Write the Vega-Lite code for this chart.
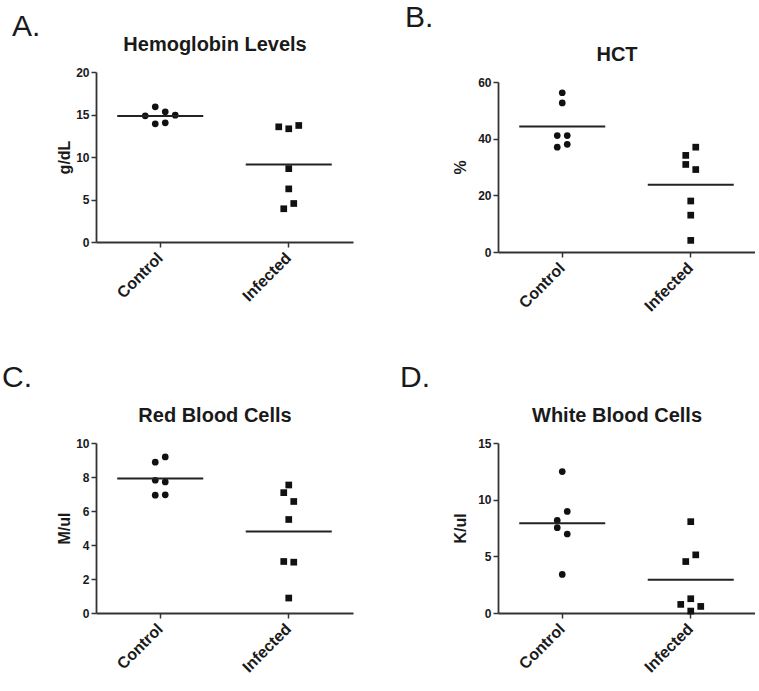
{
  "$schema": "https://vega.github.io/schema/vega-lite/v6.json",
  "background": "white",
  "padding": {"left": 2, "top": 3, "right": 0, "bottom": 0},
  "config": {
    "font": "Liberation Sans",
    "view": {"stroke": null},
    "title": {"color": "#1a1a1a", "font": "Liberation Sans", "fontSize": 30, "fontWeight": "normal", "anchor": "start", "frame": "group"},
    "axis": {"domainColor": "#333", "domainWidth": 1.8, "tickColor": "#333", "tickWidth": 1.5, "tickSize": 5, "labelColor": "#1a1a1a", "titleColor": "#1a1a1a", "labelFont": "Liberation Sans", "titleFont": "Liberation Sans", "labelFontWeight": "bold", "titleFontWeight": "bold", "grid": false},
    "axisY": {"labelFontSize": 12, "titleFontSize": 16, "labelPadding": 2, "labelBaseline": "middle", "labelOverlap": false},
    "axisBottom": {"labelFontSize": 16, "labelAngle": -45, "labelAlign": "right", "labelBaseline": "middle", "labelPadding": 8},
    "axisTop": {"domain": false, "ticks": false, "labels": false, "titleFontSize": 20, "titleX": 118.5, "titleY": -22, "titleBaseline": "alphabetic", "titleAlign": "center", "titleAngle": 0}
  },
  "datasets": {
    "blood": [
      {"panel": "A", "group": "Control", "value": 14.84, "jitter": -1.5},
      {"panel": "A", "group": "Control", "value": 15.9, "jitter": -0.5},
      {"panel": "A", "group": "Control", "value": 15.31, "jitter": 0.5},
      {"panel": "A", "group": "Control", "value": 14.92, "jitter": 1.5},
      {"panel": "A", "group": "Control", "value": 13.9, "jitter": -0.5},
      {"panel": "A", "group": "Control", "value": 14.02, "jitter": 0.5},
      {"panel": "A", "group": "Infected", "value": 13.55, "jitter": -1},
      {"panel": "A", "group": "Infected", "value": 13.32, "jitter": 0},
      {"panel": "A", "group": "Infected", "value": 13.71, "jitter": 1},
      {"panel": "A", "group": "Infected", "value": 8.63, "jitter": 0},
      {"panel": "A", "group": "Infected", "value": 6.25, "jitter": 0},
      {"panel": "A", "group": "Infected", "value": 3.91, "jitter": -0.5},
      {"panel": "A", "group": "Infected", "value": 4.53, "jitter": 0.5},
      {"panel": "B", "group": "Control", "value": 56.2, "jitter": 0},
      {"panel": "B", "group": "Control", "value": 52.6, "jitter": 0},
      {"panel": "B", "group": "Control", "value": 41.1, "jitter": -0.5},
      {"panel": "B", "group": "Control", "value": 41.1, "jitter": 0.5},
      {"panel": "B", "group": "Control", "value": 37.0, "jitter": -0.5},
      {"panel": "B", "group": "Control", "value": 38.0, "jitter": 0.5},
      {"panel": "B", "group": "Infected", "value": 37.0, "jitter": 0.5},
      {"panel": "B", "group": "Infected", "value": 34.1, "jitter": -0.5},
      {"panel": "B", "group": "Infected", "value": 30.9, "jitter": -0.5},
      {"panel": "B", "group": "Infected", "value": 29.1, "jitter": 0.5},
      {"panel": "B", "group": "Infected", "value": 18.0, "jitter": 0},
      {"panel": "B", "group": "Infected", "value": 13.0, "jitter": 0},
      {"panel": "B", "group": "Infected", "value": 4.1, "jitter": 0},
      {"panel": "C", "group": "Control", "value": 8.87, "jitter": -0.5},
      {"panel": "C", "group": "Control", "value": 9.18, "jitter": 0.5},
      {"panel": "C", "group": "Control", "value": 7.81, "jitter": -0.5},
      {"panel": "C", "group": "Control", "value": 7.71, "jitter": 0.5},
      {"panel": "C", "group": "Control", "value": 6.93, "jitter": -0.5},
      {"panel": "C", "group": "Control", "value": 6.95, "jitter": 0.5},
      {"panel": "C", "group": "Infected", "value": 7.53, "jitter": 0},
      {"panel": "C", "group": "Infected", "value": 7.08, "jitter": -0.5},
      {"panel": "C", "group": "Infected", "value": 6.56, "jitter": 0.5},
      {"panel": "C", "group": "Infected", "value": 5.5, "jitter": 0},
      {"panel": "C", "group": "Infected", "value": 3.03, "jitter": -0.5},
      {"panel": "C", "group": "Infected", "value": 2.99, "jitter": 0.5},
      {"panel": "C", "group": "Infected", "value": 0.88, "jitter": 0},
      {"panel": "D", "group": "Control", "value": 12.48, "jitter": 0},
      {"panel": "D", "group": "Control", "value": 8.96, "jitter": 0.5},
      {"panel": "D", "group": "Control", "value": 8.17, "jitter": -0.5},
      {"panel": "D", "group": "Control", "value": 7.53, "jitter": -0.5},
      {"panel": "D", "group": "Control", "value": 6.97, "jitter": 0.5},
      {"panel": "D", "group": "Control", "value": 3.4, "jitter": 0},
      {"panel": "D", "group": "Infected", "value": 8.06, "jitter": 0},
      {"panel": "D", "group": "Infected", "value": 5.13, "jitter": 0.5},
      {"panel": "D", "group": "Infected", "value": 4.54, "jitter": -0.5},
      {"panel": "D", "group": "Infected", "value": 1.26, "jitter": 0},
      {"panel": "D", "group": "Infected", "value": 0.76, "jitter": -1},
      {"panel": "D", "group": "Infected", "value": 0.58, "jitter": 1},
      {"panel": "D", "group": "Infected", "value": 0.17, "jitter": 0}
    ]
  },
  "data": {"name": "blood"},
  "columns": 2,
  "bounds": "flush",
  "spacing": {"row": 191, "column": 145},
  "resolve": {"scale": {"x": "independent", "y": "independent", "shape": "independent", "xOffset": "independent"}},
  "concat": [
    {
      "title": {"text": "A.", "dx": -84, "offset": -8},
      "width": 257, "height": 170,
      "transform": [{"filter": "datum.panel === 'A'"}],
      "resolve": {"axis": {"x": "independent"}},
      "layer": [
        {"mark": {"type": "point", "filled": true, "size": 45, "opacity": 1, "color": "#111"},
         "encoding": {
           "x": {"field": "group", "type": "nominal", "scale": {"domain": ["Control", "Infected"], "paddingInner": 0, "paddingOuter": 0}, "axis": {"title": null, "orient": "bottom"}},
           "xOffset": {"field": "jitter", "type": "quantitative", "scale": {"domain": [-6.425, 6.425]}},
           "y": {"field": "value", "type": "quantitative", "scale": {"domain": [0, 20], "nice": false}, "axis": {"values": [0, 5, 10, 15, 20], "title": "g/dL", "titlePadding": 3, "labelOverlap": false}},
           "shape": {"field": "group", "type": "nominal", "scale": {"domain": ["Control", "Infected"], "range": ["circle", "square"]}, "legend": null}
         }},
        {"mark": {"type": "tick", "size": 86, "thickness": 2, "color": "#222"},
         "encoding": {
           "x": {"field": "group", "type": "nominal", "axis": {"orient": "top", "title": "Hemoglobin Levels"}},
           "y": {"aggregate": "mean", "field": "value", "type": "quantitative", "axis": {"values": [0, 5, 10, 15, 20], "title": "g/dL", "titlePadding": 3, "labelOverlap": false}}
         }}
      ]
    },
    {
      "title": {"text": "B.", "dx": -93, "offset": 11},
      "width": 257, "height": 180,
      "transform": [{"filter": "datum.panel === 'B'"}],
      "resolve": {"axis": {"x": "independent"}},
      "layer": [
        {"mark": {"type": "point", "filled": true, "size": 45, "opacity": 1, "color": "#111"},
         "encoding": {
           "x": {"field": "group", "type": "nominal", "scale": {"domain": ["Control", "Infected"], "paddingInner": 0, "paddingOuter": 0}, "axis": {"title": null, "orient": "bottom"}},
           "xOffset": {"field": "jitter", "type": "quantitative", "scale": {"domain": [-6.425, 6.425]}},
           "y": {"field": "value", "type": "quantitative", "scale": {"domain": [0, 60], "nice": false, "range": [180, 10]}, "axis": {"values": [0, 20, 40, 60], "title": "%", "titlePadding": 9, "labelOverlap": false}},
           "shape": {"field": "group", "type": "nominal", "scale": {"domain": ["Control", "Infected"], "range": ["circle", "square"]}, "legend": null}
         }},
        {"mark": {"type": "tick", "size": 86, "thickness": 2, "color": "#222"},
         "encoding": {
           "x": {"field": "group", "type": "nominal", "axis": {"orient": "top", "title": "HCT", "titleY": -12}},
           "y": {"aggregate": "mean", "field": "value", "type": "quantitative", "axis": {"values": [0, 20, 40, 60], "title": "%", "titlePadding": 9, "labelOverlap": false}}
         }}
      ]
    },
    {
      "title": {"text": "C.", "dx": -94, "offset": 12},
      "width": 257, "height": 170,
      "transform": [{"filter": "datum.panel === 'C'"}],
      "resolve": {"axis": {"x": "independent"}},
      "layer": [
        {"mark": {"type": "point", "filled": true, "size": 45, "opacity": 1, "color": "#111"},
         "encoding": {
           "x": {"field": "group", "type": "nominal", "scale": {"domain": ["Control", "Infected"], "paddingInner": 0, "paddingOuter": 0}, "axis": {"title": null, "orient": "bottom"}},
           "xOffset": {"field": "jitter", "type": "quantitative", "scale": {"domain": [-6.425, 6.425]}},
           "y": {"field": "value", "type": "quantitative", "scale": {"domain": [0, 10], "nice": false}, "axis": {"values": [0, 2, 4, 6, 8, 10], "title": "M/ul", "titlePadding": 3, "labelOverlap": false}},
           "shape": {"field": "group", "type": "nominal", "scale": {"domain": ["Control", "Infected"], "range": ["circle", "square"]}, "legend": null}
         }},
        {"mark": {"type": "tick", "size": 86, "thickness": 2, "color": "#222"},
         "encoding": {
           "x": {"field": "group", "type": "nominal", "axis": {"orient": "top", "title": "Red Blood Cells"}},
           "y": {"aggregate": "mean", "field": "value", "type": "quantitative", "axis": {"values": [0, 2, 4, 6, 8, 10], "title": "M/ul", "titlePadding": 3, "labelOverlap": false}}
         }}
      ]
    },
    {
      "title": {"text": "D.", "dx": -98, "offset": 12},
      "width": 257, "height": 170,
      "transform": [{"filter": "datum.panel === 'D'"}],
      "resolve": {"axis": {"x": "independent"}},
      "layer": [
        {"mark": {"type": "point", "filled": true, "size": 45, "opacity": 1, "color": "#111"},
         "encoding": {
           "x": {"field": "group", "type": "nominal", "scale": {"domain": ["Control", "Infected"], "paddingInner": 0, "paddingOuter": 0}, "axis": {"title": null, "orient": "bottom"}},
           "xOffset": {"field": "jitter", "type": "quantitative", "scale": {"domain": [-6.425, 6.425]}},
           "y": {"field": "value", "type": "quantitative", "scale": {"domain": [0, 15], "nice": false}, "axis": {"values": [0, 5, 10, 15], "title": "K/ul", "titlePadding": 9, "labelOverlap": false}},
           "shape": {"field": "group", "type": "nominal", "scale": {"domain": ["Control", "Infected"], "range": ["circle", "square"]}, "legend": null}
         }},
        {"mark": {"type": "tick", "size": 86, "thickness": 2, "color": "#222"},
         "encoding": {
           "x": {"field": "group", "type": "nominal", "axis": {"orient": "top", "title": "White Blood Cells"}},
           "y": {"aggregate": "mean", "field": "value", "type": "quantitative", "axis": {"values": [0, 5, 10, 15], "title": "K/ul", "titlePadding": 9, "labelOverlap": false}}
         }}
      ]
    }
  ]
}
